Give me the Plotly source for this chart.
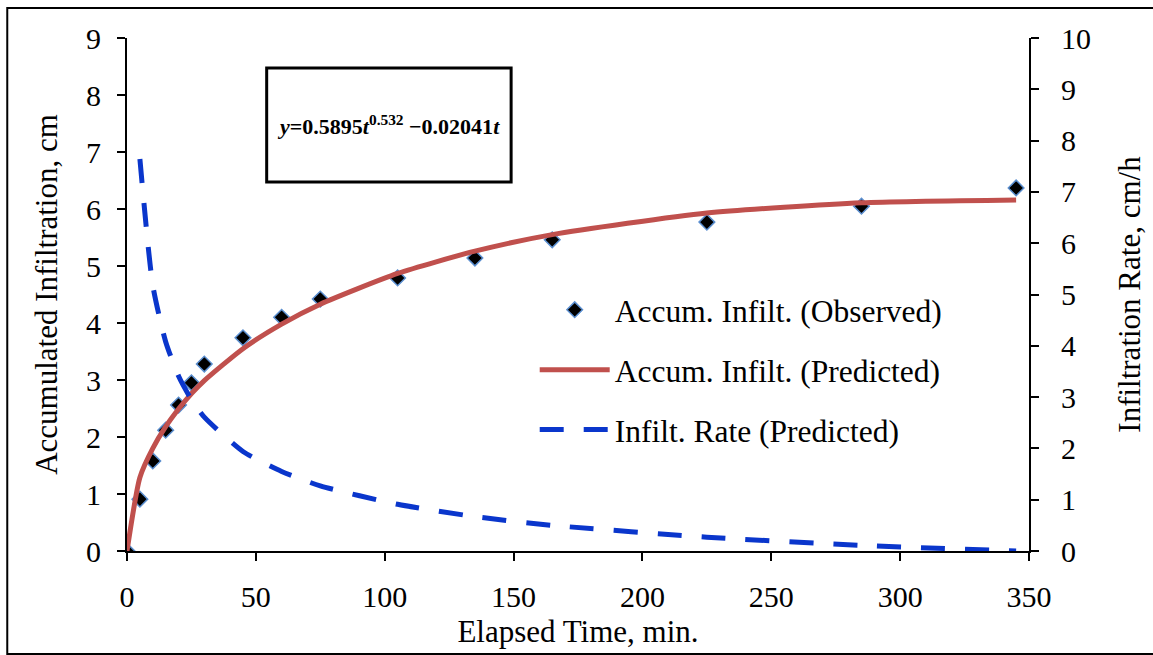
import plotly.graph_objects as go

# Observed data
t_obs = [0, 5, 10, 15, 20, 25, 30, 45, 60, 75, 105, 135, 165, 225, 285, 345]
accum_obs = [0, 0.91, 1.58, 2.12, 2.56, 2.95, 3.28, 3.74, 4.10, 4.42, 4.79, 5.14, 5.46, 5.77, 6.05, 6.37]

# Predicted accumulated infiltration
t_pred = [0, 5, 10, 15, 20, 25, 30, 45, 60, 75, 105, 135, 165, 225, 285, 345]
accum_pred = [0, 1.29, 1.80, 2.18, 2.49, 2.76, 2.99, 3.55, 3.98, 4.33, 4.87, 5.26, 5.55, 5.93, 6.11, 6.16]

# Predicted infiltration rate (right axis)
t_rate = [5, 10, 15, 20, 25, 30, 45, 60, 75, 105, 135, 165, 225, 285, 345]
rate_pred = [7.64, 5.18, 4.08, 3.41, 2.95, 2.61, 1.94, 1.55, 1.27, 0.91, 0.67, 0.50, 0.27, 0.11, 0.0]

x_ticks = [0, 50, 100, 150, 200, 250, 300, 350]

FONT = "Liberation Serif, Times New Roman, serif"

fig = go.Figure()
fig.add_trace(go.Scatter(
    x=t_obs, y=accum_obs, mode="markers", name="Accum. Infilt. (Observed)",
    marker=dict(symbol="diamond", size=12, color="black",
                line=dict(color="#5B8FD0", width=1.5)),
    legendgroup="a"))
fig.add_trace(go.Scatter(
    x=t_pred, y=accum_pred, mode="lines", name="Accum. Infilt. (Predicted)",
    line=dict(color="#C0504D", width=5, shape="spline", smoothing=0.6),
    legendgroup="b"))
fig.add_trace(go.Scatter(
    x=t_rate, y=rate_pred, mode="lines", name="Infilt. Rate (Predicted)",
    line=dict(color="#0A36CC", width=5, dash="24px,20px", shape="spline", smoothing=0.6),
    yaxis="y2", legendgroup="c"))

axis_common = dict(showgrid=False, zeroline=False, showline=True, linecolor="black",
                   linewidth=2, ticks="outside", ticklen=8, tickwidth=2, tickcolor="black",
                   tickfont=dict(family=FONT, size=30, color="black"))

fig.update_layout(
    width=1153, height=655,
    margin=dict(l=127, r=122, t=38, b=104),
    paper_bgcolor="white", plot_bgcolor="white",
    font=dict(family=FONT, color="black"),
    xaxis=dict(range=[0, 350], tickvals=x_ticks, ticklabelstandoff=10,
               title=dict(text="Elapsed Time, min.", font=dict(family=FONT, size=31), standoff=8),
               **axis_common),
    yaxis=dict(range=[0, 9], dtick=1, ticklabelstandoff=10,
               title=dict(text="Accumulated Infiltration, cm", font=dict(family=FONT, size=31), standoff=19),
               **axis_common),
    yaxis2=dict(range=[0, 10], dtick=1, overlaying="y", side="right", ticklabelstandoff=16,
                title=dict(text="Infiltration Rate, cm/h", font=dict(family=FONT, size=31), standoff=28),
                **axis_common),
    showlegend=True,
    legend=dict(x=0.452, y=0.523, xanchor="left", yanchor="top",
                bgcolor="rgba(0,0,0,0)", font=dict(family=FONT, size=31.5),
                tracegroupgap=16, itemwidth=70),
    annotations=[dict(
        x=101.6, y=7.47, xref="x", yref="y",
        text="<b><i>y</i>=0.5895<i>t</i><sup>0.532</sup> \u22120.02041<i>t</i></b>",
        showarrow=False, font=dict(family=FONT, size=22, color="black"),
        xanchor="center", yanchor="middle")],
    shapes=[
        dict(type="rect", xref="x", yref="y", x0=54.2, x1=149.05, y0=6.474, y1=8.474,
             line=dict(color="black", width=3), fillcolor="white", layer="below"),
        dict(type="rect", xref="paper", yref="paper",
             x0=(7 - 127) / 904, x1=(1165 - 127) / 904,
             y0=(551 - 654) / 513, y1=(551 - 8) / 513,
             line=dict(color="black", width=2), layer="below")],
)

fig.write_html("out.html")
